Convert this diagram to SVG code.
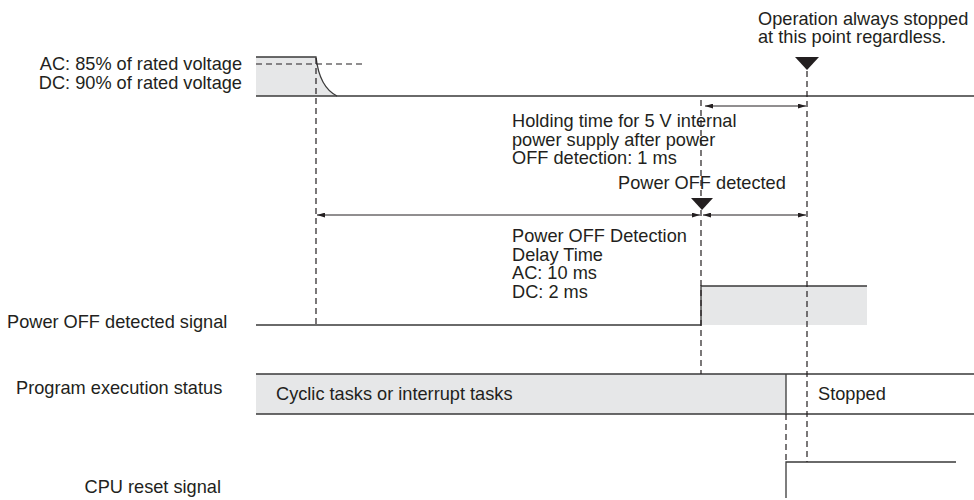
<svg xmlns="http://www.w3.org/2000/svg" width="974" height="500" viewBox="0 0 974 500">
<style>
text{font-family:"Liberation Sans",Arial,Helvetica,sans-serif;font-size:18.2px;fill:#231f20}
.ln{stroke:#3a3a3a;stroke-width:1.3;fill:none}
.dash{stroke:#231f20;stroke-width:1.2;stroke-dasharray:6 4;fill:none}
.fill{fill:#e6e7e8;stroke:none}
.arr{stroke:#231f20;stroke-width:1;fill:none;marker-start:url(#ah);marker-end:url(#ah)}
.tri{fill:#231f20}
</style>
<defs>
<marker id="ah" viewBox="0 0 10 6" refX="10" refY="3" markerWidth="8" markerHeight="5" markerUnits="userSpaceOnUse" orient="auto-start-reverse">
<path d="M0,0 L10,3 L0,6 Z" fill="#231f20"/>
</marker>
</defs>
<rect width="974" height="500" fill="#ffffff"/>

<g id="voltage">
<path class="fill" d="M256,57 H316 C318,75 325,90 337,96 H256 Z"/>
<path class="ln" d="M256,57 H316 C318,75 325,90 337,96 H974"/>
<path class="ln" d="M256,96 H337"/>
<path class="dash" d="M256,64 H366"/>
<text x="242" y="70" text-anchor="end">AC: 85% of rated voltage</text>
<text x="242" y="89" text-anchor="end">DC: 90% of rated voltage</text>
</g>

<g id="power-off-signal">
<rect class="fill" x="701" y="286" width="166" height="39"/>
<path class="ln" d="M256,325 H701 V286 H867"/>
<text x="7" y="328">Power OFF detected signal</text>
</g>

<g id="program-status">
<rect class="fill" x="256" y="374" width="530" height="40"/>
<path class="ln" d="M256,374 H974 M256,414 H974 M786,374 V414"/>
<text x="16" y="394">Program execution status</text>
<text x="276" y="400">Cyclic tasks or interrupt tasks</text>
<text x="818" y="400">Stopped</text>
</g>

<g id="cpu-reset">
<path class="ln" d="M786,498 V462 H956"/>
<text x="221" y="493" text-anchor="end">CPU reset signal</text>
</g>

<g id="stop-point">
<path class="tri" d="M795,57 H819 L807,70 Z"/>
<text x="758" y="24.5">Operation always stopped</text>
<text x="758" y="43">at this point regardless.</text>
</g>

<g id="power-off-detected">
<path class="tri" d="M691,198 H713 L702,210 Z"/>
<text x="618" y="189">Power OFF detected</text>
</g>

<g id="holding-time">
<text x="512" y="127">Holding time for 5 V internal</text>
<text x="512" y="145.5">power supply after power</text>
<text x="512" y="164">OFF detection: 1 ms</text>
</g>

<g id="delay-time">
<text x="512" y="242">Power OFF Detection</text>
<text x="512" y="260.5">Delay Time</text>
<text x="512" y="279">AC: 10 ms</text>
<text x="512" y="297.5">DC: 2 ms</text>
</g>

<g id="connectors">
<path class="dash" d="M316,58 V325"/>
<path class="dash" d="M701,100 V374"/>
<path class="dash" d="M807,71 V462"/>
<path class="dash" d="M786,414 V462"/>
<path class="arr" d="M705,106 H806"/>
<path class="arr" d="M317,215 H700"/>
<path class="arr" d="M703,215 H806"/>
</g>
</svg>
